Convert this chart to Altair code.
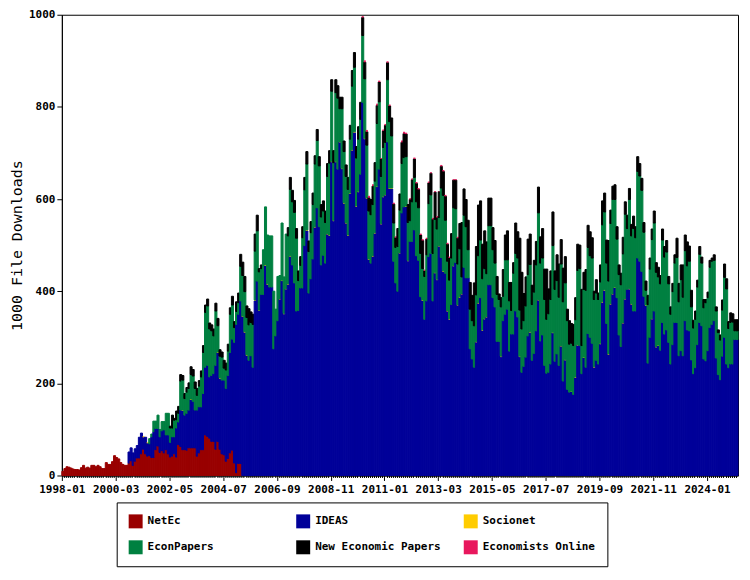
import altair as alt
import pandas as pd

START_YEAR = 1998
N_MONTHS = 327          # 1998-01 .. 2025-03
IDEAS_START = 32        # 2000-09, first month with IDEAS / EconPapers / NEP data
EO_START = 145          # 2010-02

# NetEc downloads (thousands), 1998-01 .. 2005-03
netec = [
    9, 15, 19, 18, 16, 14, 13, 13, 12, 17,
    22, 16, 18, 16, 22, 22, 19, 22, 19, 15,
    15, 28, 24, 24, 30, 43, 39, 36, 28, 24,
    22, 22, 27, 32, 22, 31, 38, 38, 47, 57,
    47, 42, 43, 39, 39, 56, 64, 50, 54, 49,
    56, 47, 40, 42, 47, 40, 67, 63, 56, 56,
    55, 60, 60, 60, 60, 42, 49, 56, 56, 88,
    85, 81, 74, 74, 57, 74, 57, 47, 45, 31,
    37, 49, 55, 27, 6, 26, 26,
]

# Stack levels (top of IDEAS, top of EconPapers, top of NEP), from 2000-09
ideas_top = [
    51, 60, 49, 58, 65, 83, 92, 83, 83, 70, 69, 84, 95, 102, 102, 84, 97, 99, 88, 88, 72, 84, 84,
    103, 116, 142, 140, 131, 135, 142, 164, 161, 142,
    142, 149, 149, 178, 235, 239, 214, 217, 221, 239,
    266, 210, 207, 207, 189, 217, 267, 296, 289, 328,
    350, 379, 344, 310, 260, 250, 260, 235, 379, 422,
    357, 393, 393, 455, 414, 409, 409, 275, 303, 336,
    382, 422, 350, 404, 414,
    475, 457, 418, 357, 358, 407, 407, 499, 531, 396,
    427, 470, 538, 581, 540, 457, 478, 461, 523, 520,
    680, 552, 680, 665, 723, 665, 590, 547, 520, 611,
    705, 744, 583, 615, 654, 810, 730, 601, 468, 461,
    475, 525, 626, 665, 545, 604, 608, 724, 622, 622,
    465, 418, 400, 482, 570, 583,
    583, 465, 508, 508, 533, 477, 467, 388, 379, 339,
    379, 475, 482, 379, 439, 424, 497, 473, 442, 439,
    356, 338, 371, 454, 462, 369, 386, 393, 452, 429,
    429, 275, 253, 235, 289, 373, 386, 314, 339, 343,
    414, 414, 386, 366, 291, 291, 257, 336, 350, 361,
    270, 307, 307, 357, 344,
    257, 224, 237, 257, 303, 310, 250, 265, 314, 380,
    292, 305, 239, 222, 224, 242, 309, 248, 264, 239,
    280, 205, 250, 187, 181, 181, 176, 212, 282, 282,
    221, 255, 235, 308, 300, 287, 234, 250, 242, 285,
    375, 401, 330, 262, 371, 393, 407, 386, 305, 280,
    330, 382, 404,
    404, 371, 357, 357, 472,
    465, 443, 389, 368, 244, 300, 339, 357, 278, 281,
    272, 332, 307, 316, 289, 242, 284, 332, 332, 260,
    271, 260, 336, 316, 314, 251, 221, 234, 284, 332,
    325, 253, 249, 271, 321, 328, 336, 255, 219, 208,
    259, 300, 242, 234, 242, 242, 295, 295,
]

econpapers_top = [
    51, 60, 49, 58, 65, 83, 92, 83, 83, 70, 80, 90, 118, 118, 131, 100, 117, 117, 135, 135, 103, 103, 120,
    121, 135, 205, 205, 167, 181, 189, 217, 216, 189,
    174, 194, 214, 267, 354, 368, 318, 314, 303, 357,
    323, 257, 257, 233, 229, 270, 350, 370, 321, 356,
    375, 454, 432, 397, 341, 327, 332, 328, 485, 531,
    440, 449, 490, 581, 520, 520, 520, 400, 361, 432,
    432, 546, 429, 522, 518,
    619, 594, 571, 515, 423, 456, 516, 620, 674, 486,
    527, 588, 674, 727, 672, 561, 574, 549, 647, 676,
    832, 677, 829, 819, 794, 794, 701, 647, 619, 728,
    843, 884, 687, 728, 773, 955, 859, 715, 572, 566,
    586, 637, 762, 811, 647, 710, 721, 859, 766, 735,
    548, 495, 497, 574, 677, 690,
    690, 547, 553, 594, 647, 594, 581, 482, 447, 432,
    479, 590, 609, 482, 554, 533, 558, 624, 606, 554,
    463, 422, 472, 579, 579, 457, 490, 429, 565, 540,
    490, 361, 336, 325, 390, 475, 511, 425, 447, 436,
    542, 542, 490, 461, 393, 382, 364, 389, 468, 468,
    379, 358, 439, 482, 472,
    357, 318, 336, 368, 436, 456, 371, 398, 457, 568,
    461, 472, 382, 339, 351, 382, 497, 404, 423, 387,
    457, 377, 416, 336, 285, 285, 282, 336, 443, 449,
    282, 402, 402, 495, 477, 472, 380, 396, 382, 418,
    542, 570, 461, 420, 545, 597, 597, 513, 436, 414,
    479, 565, 536,
    597, 518, 536, 516, 660,
    650, 619, 528, 400, 371, 448, 510, 548, 439, 429,
    416, 511, 474, 485, 416, 350, 399, 461, 473, 377,
    425, 387, 488, 455, 465, 366, 320, 339, 409, 480,
    461, 364, 375, 386, 452, 465, 467, 357, 310, 294,
    359, 430, 405, 319, 332, 333, 314, 314,
]

nep_top = [
    51, 60, 49, 58, 65, 83, 92, 83, 83, 70, 80, 90, 118, 118, 131, 100, 117, 117, 135, 135, 107, 131, 124,
    140, 150, 219, 215, 178, 191, 201, 234, 230, 203,
    189, 206, 227, 282, 370, 383, 331, 327, 318, 374,
    339, 271, 268, 250, 244, 285, 364, 389, 334, 377,
    396, 480, 461, 430, 366, 362, 355, 350, 522, 565,
    447, 457, 490, 581, 520, 520, 520, 400, 361, 432,
    432, 546, 429, 522, 536,
    645, 619, 597, 536, 444, 475, 540, 647, 701, 509,
    551, 613, 692, 751, 692, 588, 596, 574, 675, 703,
    857, 703, 857, 846, 819, 819, 724, 672, 645, 758,
    877, 916, 712, 755, 810, 994, 895, 744, 601, 599,
    626, 677, 801, 854, 685, 746, 758, 896, 800, 774,
    589, 516, 536, 609, 723, 742,
    739, 586, 599, 642, 687, 634, 621, 522, 508, 444,
    513, 635, 656, 556, 613, 558, 614, 671, 658, 606,
    500, 470, 525, 639, 641, 513, 545, 547, 622, 599,
    554, 419, 391, 418, 495, 585, 596, 500, 529, 505,
    602, 602, 538, 510, 432, 394, 384, 447, 522, 531,
    419, 419, 462, 548, 529,
    513, 441, 395, 431, 513, 522, 413, 467, 508, 624,
    518, 536, 448, 448, 405, 444, 570, 444, 479, 459,
    510, 450, 473, 361, 336, 328, 328, 384, 500, 500,
    404, 439, 447, 543, 529, 516, 398, 425, 396, 455,
    594, 611, 511, 508, 574, 626, 629, 540, 457, 439,
    515, 592, 565,
    621, 543, 563, 540, 692,
    677, 645, 549, 420, 391, 472, 533, 574, 460, 450,
    434, 535, 497, 510, 432, 366, 417, 479, 515, 417,
    457, 457, 522, 507, 498, 402, 337, 357, 424, 497,
    474, 382, 382, 398, 467, 472, 479, 366, 316, 305,
    381, 459, 427, 334, 353, 351, 338, 338,
]

# Economists Online (thin pink caps), from 2010-02
eo = [
    3, 4, 4, 4, 0, 4, 0, 4, 3, 2,
    3, 3, 3, 3, 0, 3, 3, 0, 0, 4,
    4, 3, 0, 3, 3, 3, 3, 3, 3, 3,
    3, 3, 3, 2, 3, 2, 3, 1, 3, 3,
    3, 3, 3, 0, 2, 2, 3,
]

# Socionet (thin yellow lines): months (index from 1998-01) where visible
socionet_months = [
    39, 41, 58, 62, 75, 76, 87, 88, 89, 93, 95, 98, 99, 105, 106, 107, 108, 109, 110,
    118, 122, 128, 129, 130, 131, 132, 134, 135, 136, 137, 138, 139, 140, 141, 142, 143,
    146, 147, 148, 150, 151, 152, 154, 155, 156, 158, 159, 163, 166, 167, 174, 180, 181,
    182, 184, 186, 187, 189, 191, 192, 193, 200, 201, 203, 204, 205, 212, 221, 226, 230,
    237, 241, 243, 246, 248, 249, 252, 257, 260, 261, 262, 264, 265, 266, 267, 271, 272,
    274, 275, 282, 285, 287, 288,
]
socionet_level = 2

sources = ["NetEc", "IDEAS", "Socionet", "EconPapers", "New Economic Papers", "Economists Online"]
colors = ["#990000", "#000099", "#ffcc00", "#008040", "#000000", "#e8175d"]

rows = []
for i in range(N_MONTHS):
    r = netec[i] if i < len(netec) else 0
    if i >= IDEAS_START:
        b = ideas_top[i - IDEAS_START]
        g = econpapers_top[i - IDEAS_START]
        k = nep_top[i - IDEAS_START]
    else:
        b = g = k = r
    vals = {
        "NetEc": r,
        "IDEAS": max(b - r, 0),
        "Socionet": socionet_level if i in socionet_months else 0,
        "EconPapers": max(g - b, 0),
        "New Economic Papers": max(k - g, 0),
        "Economists Online": eo[i - EO_START] if EO_START <= i < EO_START + len(eo) else 0,
    }
    label = f"{START_YEAR + i // 12}-{i % 12 + 1:02d}"
    lo = 0
    for s in sources:
        v = vals[s]
        if v > 0:
            rows.append({"idx": i, "idx_end": i + 1, "month": label, "source": s,
                         "value": v, "lo": lo, "hi": lo + v})
        lo += v

df = pd.DataFrame(rows)

color_scale = alt.Scale(domain=sources, range=colors)
FONT = "DejaVu Sans Mono"

x_axis = alt.Axis(
    values=list(range(0, N_MONTHS)),
    labelExpr="datum.value % 26 == 0 ? (1998 + floor(datum.value / 12)) + '-' + "
              "(datum.value % 12 < 9 ? '0' : '') + (datum.value % 12 + 1) : ''",
    tickSize={"condition": {"test": "datum.value % 26 == 0", "value": 5}, "value": 2},
    labelOverlap=False, labelFlush=False, labelPadding=3,
    labelFont=FONT, labelFontSize=11, labelFontWeight="bold", labelColor="black",
    tickColor="black", domainColor="black", title=None, grid=False,
)

y_axis = alt.Axis(
    values=[0, 200, 400, 600, 800, 1000], format="d", tickSize=5, labelPadding=2,
    labelFont=FONT, labelFontSize=11, labelFontWeight="bold", labelColor="black",
    title="1000 File Downloads", titleFont=FONT, titleFontSize=15, titleFontWeight="normal",
    titleColor="black", titlePadding=4, titleAngle=270, grid=False,
    tickColor="black", domainColor="black",
)

thin = "datum.source === 'Socionet' || datum.source === 'Economists Online'"

chart = alt.Chart(df).mark_bar().encode(
    x=alt.X("idx:Q", scale=alt.Scale(domain=[0, N_MONTHS], nice=False, zero=False), axis=x_axis),
    x2="idx_end:Q",
    y=alt.Y("hi:Q", scale=alt.Scale(domain=[0, 1000], nice=False), axis=y_axis),
    y2="lo:Q",
    color=alt.Color("source:N", scale=color_scale, legend=alt.Legend(
        title=None, orient="none", legendX=55, legendY=489, direction="horizontal",
        columns=3, gridAlign="all", symbolType="square", symbolSize=196,
        symbolStrokeWidth=0, labelFont=FONT, labelFontSize=11, labelFontWeight="bold",
        labelColor="black", columnPadding=23, rowPadding=12, padding=12,
        strokeColor="black", labelOffset=5, labelLimit=250,
    )),
    stroke=alt.Stroke("source:N", scale=color_scale, legend=None),
    strokeWidth=alt.condition(thin, alt.value(0), alt.value(1)),
).properties(
    width=678, height=462,
    autosize=alt.AutoSizeParams(type="none"),
    padding={"left": 54, "top": 6, "right": 4, "bottom": 95},
    background="white",
).configure_view(stroke="black", strokeWidth=1)

chart.save("out.html", embed_options={"renderer": "svg", "actions": False})
